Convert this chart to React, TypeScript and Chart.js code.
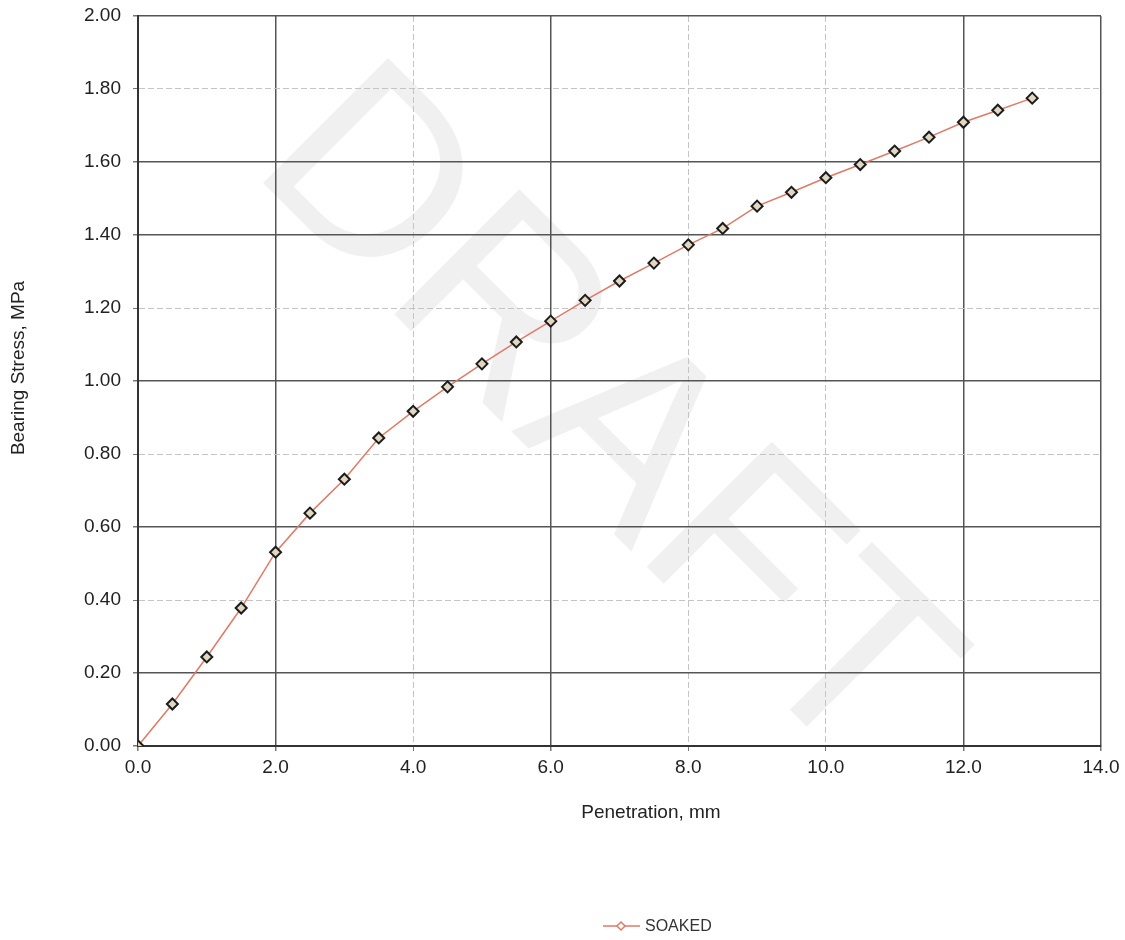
import React, { useEffect, useRef } from "react";
import { Chart, registerables } from "chart.js";

Chart.register(...registerables);

const penetration = [0, 0.5, 1.0, 1.5, 2.0, 2.5, 3.0, 3.5, 4.0, 4.5, 5.0, 5.5, 6.0, 6.5, 7.0, 7.5, 8.0, 8.5, 9.0, 9.5, 10.0, 10.5, 11.0, 11.5, 12.0, 12.5, 13.0];
const soaked = [0, 0.115, 0.244, 0.378, 0.531, 0.638, 0.731, 0.844, 0.917, 0.984, 1.047, 1.107, 1.164, 1.221, 1.274, 1.323, 1.373, 1.418, 1.479, 1.517, 1.557, 1.593, 1.630, 1.668, 1.709, 1.742, 1.775];

const seriesName = "SOAKED";
const xTitle = "Penetration, mm";
const yTitle = "Bearing Stress, MPa";
const watermark = "DRAFT";

const lightX = [4, 8, 10];
const lightY = [4, 8, 12, 18]; // tenths

const FONT = "'Liberation Sans', Arial, sans-serif";
const LINE_COLOR = "#e07a66";

const decorPlugin = {
  id: "decor",
  beforeDraw(chart: any) {
    const ctx = chart.ctx;
    ctx.save();
    ctx.translate(551, 471);
    ctx.rotate(Math.PI / 4);
    ctx.fillStyle = "#f0f0f0";
    ctx.font = `257px ${FONT}`;
    ctx.textAlign = "center";
    ctx.textBaseline = "alphabetic";
    ctx.fillText(watermark, 0, 0);
    ctx.restore();
  },
  afterDraw(chart: any) {
    const ctx = chart.ctx;
    ctx.save();
    ctx.fillStyle = "#222";
    ctx.font = `19px ${FONT}`;
    ctx.textAlign = "center";
    ctx.textBaseline = "middle";
    ctx.fillText(xTitle, 651, 813);
    ctx.save();
    ctx.translate(19, 368);
    ctx.rotate(-Math.PI / 2);
    ctx.fillText(yTitle, 0, 0);
    ctx.restore();
    // legend
    const ly = 926;
    ctx.strokeStyle = LINE_COLOR;
    ctx.lineWidth = 1.5;
    ctx.beginPath();
    ctx.moveTo(603, ly);
    ctx.lineTo(640, ly);
    ctx.stroke();
    ctx.beginPath();
    ctx.moveTo(621, ly - 4);
    ctx.lineTo(625, ly);
    ctx.lineTo(621, ly + 4);
    ctx.lineTo(617, ly);
    ctx.closePath();
    ctx.fillStyle = "#fff";
    ctx.fill();
    ctx.stroke();
    ctx.fillStyle = "#333";
    ctx.font = `16px ${FONT}`;
    ctx.textAlign = "left";
    ctx.fillText(seriesName, 645, ly + 1);
    ctx.restore();
  },
};

export default function App() {
  const ref = useRef<HTMLCanvasElement>(null);
  useEffect(() => {
    if (!ref.current) return;
    const isLightX = (v: number) => lightX.some((l) => Math.abs(l - v) < 1e-6);
    const isLightY = (v: number) => lightY.some((l) => Math.abs(l - Math.round(v * 10)) < 1e-6);
    const chart = new Chart(ref.current, {
      type: "line",
      data: {
        datasets: [
          {
            label: seriesName,
            data: penetration.map((x, i) => ({ x, y: soaked[i] })),
            borderColor: LINE_COLOR,
            borderWidth: 1.5,
            pointStyle: "rectRot",
            pointRadius: 5.5,
            pointBorderWidth: 2,
            pointBorderColor: "#1c1c1c",
            pointBackgroundColor: "#e2d8c2",
            tension: 0,
          },
        ],
      },
      options: {
        animation: false,
        responsive: true,
        maintainAspectRatio: false,
        layout: { padding: { left: 0, top: 16, right: 24, bottom: 0 } },
        plugins: {
          legend: { display: false },
          tooltip: { enabled: false },
        },
        scales: {
          x: {
            type: "linear",
            min: 0,
            max: 14,
            ticks: {
              stepSize: 2,
              color: "#222",
              font: { family: FONT, size: 19 },
              padding: 5,
              maxRotation: 0,
              callback: (v: any) => Number(v).toFixed(1),
            },
            grid: {
              color: (c: any) => (c.tick && isLightX(c.tick.value) ? "#c4c4c4" : "#555"),
              lineWidth: (c: any) => (c.tick && isLightX(c.tick.value) ? 1 : 1.5),
              tickLength: 5,
              tickColor: "#777",
            },
            border: {
              display: true,
              color: "#333",
              width: 2,
              dash: (c: any) => (c.tick && isLightX(c.tick.value) ? [6, 3] : []),
            },
            afterFit: (s: any) => {
              s.height = 194;
              s.paddingLeft = 0;
              s.paddingRight = 0;
            },
          },
          y: {
            type: "linear",
            min: 0,
            max: 2,
            ticks: {
              stepSize: 0.2,
              color: "#222",
              font: { family: FONT, size: 19 },
              padding: 12,
              callback: (v: any) => Number(v).toFixed(2),
            },
            grid: {
              color: (c: any) => (c.tick && isLightY(c.tick.value) ? "#c4c4c4" : "#555"),
              lineWidth: (c: any) => (c.tick && isLightY(c.tick.value) ? 1 : 1.5),
              tickLength: 5,
              tickColor: "#777",
            },
            border: {
              display: true,
              color: "#333",
              width: 2,
              dash: (c: any) => (c.tick && isLightY(c.tick.value) ? [6, 3] : []),
            },
            afterFit: (s: any) => {
              s.width = 138;
              s.paddingTop = 0;
              s.paddingBottom = 0;
            },
          },
        },
      },
      plugins: [decorPlugin],
    } as any);
    return () => chart.destroy();
  }, []);
  return (
    <div style={{ position: "absolute", left: 0, top: 0, width: 1125, height: 940, background: "#fff" }}>
      <canvas ref={ref} />
    </div>
  );
}
